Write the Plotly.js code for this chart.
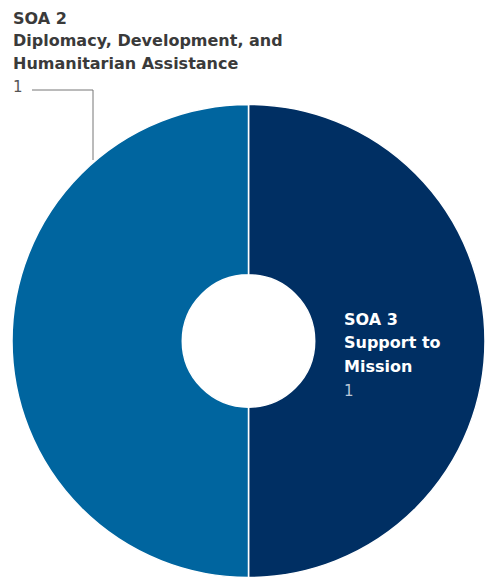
<!DOCTYPE html>
<html>
<head>
<meta charset="utf-8">
<script src="https://cdn.plot.ly/plotly-3.0.1.min.js"></script>
<style>html,body{margin:0;padding:0;background:#fff;}#chart{width:485px;height:582px;}</style>
</head>
<body>
<div id="chart"></div>
<script>
// Data
var categories = ["SOA 3", "SOA 2"];
var categoryNames = [["Support to", "Mission"], ["Diplomacy, Development, and", "Humanitarian Assistance"]];
var values = [1, 1];
var colors = ["#002f63", "#00659f"];

var W = 485, H = 582;
function px(x){return x / W;}
function py(y){return 1 - y / H;}

var trace = {
  type: "pie",
  values: values,
  labels: categories,
  hole: 0.28,
  sort: false,
  direction: "clockwise",
  rotation: 0,
  textinfo: "none",
  hoverinfo: "label+value",
  marker: {colors: colors, line: {color: "#ffffff", width: 1.5}},
  domain: {x: [px(12), 1], y: [py(578), py(104)]},
  showlegend: false
};

var FAM = "'DejaVu Sans', sans-serif";
var ann = [];
var leftFont = {family: FAM, size: 16, color: "#3a3a3a", weight: 700};
var leftLines = [categories[1]].concat(categoryNames[1]);
var leftY = [19, 41, 63];
leftLines.forEach(function(t, i){
  ann.push({xref: "paper", yref: "paper", x: px(11), y: py(leftY[i]), xanchor: "left", yanchor: "middle",
    text: t, showarrow: false, font: leftFont});
});
ann.push({xref: "paper", yref: "paper", x: px(11), y: py(87), xanchor: "left", yanchor: "middle",
  text: String(values[1]), showarrow: false, font: {family: FAM, size: 15, color: "#555555"}});

var rightFont = {family: FAM, size: 16, color: "#ffffff", weight: 700};
var rightLines = [categories[0]].concat(categoryNames[0]);
var rightY = [319, 342, 366];
rightLines.forEach(function(t, i){
  ann.push({xref: "paper", yref: "paper", x: px(342), y: py(rightY[i]), xanchor: "left", yanchor: "middle",
    text: t, showarrow: false, font: rightFont});
});
ann.push({xref: "paper", yref: "paper", x: px(342), y: py(391), xanchor: "left", yanchor: "middle",
  text: String(values[0]), showarrow: false, font: {family: FAM, size: 15, color: "#b9c6d8"}});

var layout = {
  width: W, height: H,
  margin: {l: 0, r: 0, t: 0, b: 0},
  paper_bgcolor: "#ffffff",
  annotations: ann,
  shapes: [{
    type: "path", xref: "paper", yref: "paper",
    path: "M " + px(32) + " " + py(90) + " L " + px(93) + " " + py(90) + " L " + px(93) + " " + py(160),
    line: {color: "#777777", width: 1}
  }]
};
Plotly.newPlot("chart", [trace], layout, {displayModeBar: false, staticPlot: true});
</script>
</body>
</html>
